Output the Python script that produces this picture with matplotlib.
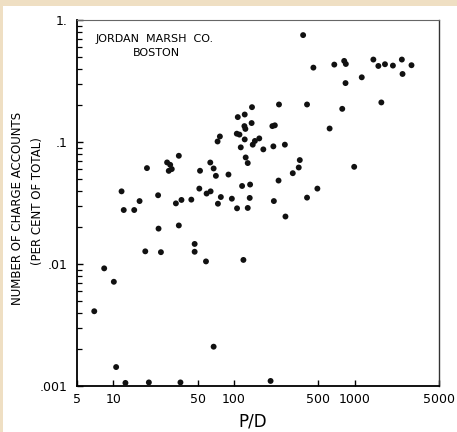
import matplotlib
matplotlib.use("Agg")
import matplotlib.pyplot as plt
from matplotlib.patches import Rectangle
from matplotlib.ticker import FixedLocator, NullFormatter, LogLocator, NullLocator

# P/D ratio (x) and number of charge accounts, per cent of total (y)
pd_ratio = [6.95, 8.40, 10.1, 10.55, 12.6, 11.7, 12.2, 14.9, 16.5, 18.4,
            19.0, 19.7, 23.5, 23.7, 24.8, 27.9, 29.6, 30.5, 28.8, 33.0,
            34.9, 34.9, 36.7, 36.0, 44.3, 47.2, 47.2, 52.3, 51.6, 58.6,
            59.3, 64.0, 63.6, 67.8, 67.8, 70.8, 73.6, 73.1, 76.4, 77.8,
            90.0, 96.0, 106, 105.5, 107.5, 111, 113.8, 116.7, 119.7, 122.7,
            122.7, 122, 124.3, 125, 130, 130, 136, 135, 140, 141,
            143, 149, 162, 175, 201, 208, 218, 212, 214, 234,
            236, 264, 267, 307, 344, 351, 374, 403, 403, 455,
            491, 620, 678, 789, 819, 845, 840, 991, 1145, 1429,
            1572, 1664, 1783, 2075, 2461, 2493, 2958]
accounts = [0.00410, 0.00921, 0.00715, 0.00143, 0.00106, 0.0394, 0.0277, 0.0277, 0.0328, 0.0127,
            0.0611, 0.00107, 0.0366, 0.0195, 0.0125, 0.068, 0.065, 0.060, 0.058, 0.0314,
            0.0771, 0.0207, 0.0335, 0.00107, 0.0337, 0.0146, 0.0126, 0.0581, 0.0415, 0.0105,
            0.0378, 0.0394, 0.0679, 0.0607, 0.00210, 0.0528, 0.0312, 0.101, 0.111, 0.0354,
            0.0541, 0.0343, 0.0286, 0.117, 0.160, 0.115, 0.0904, 0.0436, 0.0108, 0.105,
            0.168, 0.135, 0.128, 0.0747, 0.0672, 0.0288, 0.0448, 0.0348, 0.143, 0.193,
            0.0951, 0.102, 0.107, 0.0870, 0.00110, 0.135, 0.137, 0.0921, 0.0328, 0.0483,
            0.203, 0.0951, 0.0245, 0.0555, 0.0618, 0.0711, 0.752, 0.0350, 0.203, 0.407,
            0.0415, 0.129, 0.431, 0.187, 0.462, 0.436, 0.304, 0.0626, 0.339, 0.474,
            0.420, 0.211, 0.434, 0.423, 0.474, 0.361, 0.426]

x_ticks = [5, 10, 50, 100, 500, 1000, 5000]
x_ticklabels = ["5", "10", "50", "100", "500", "1000", "5000"]
y_ticks = [0.001, 0.01, 0.1, 1]
y_ticklabels = [".001", ".01", ".1", "1."]

W, H = 457, 432
fig = plt.figure(figsize=(W / 100, H / 100), dpi=100)
fig.patch.set_facecolor("white")
beige = "#efdfc3"
fig.patches.append(Rectangle((0, 1 - 6 / H), 1, 6 / H, transform=fig.transFigure,
                             facecolor=beige, edgecolor="none", zorder=-5))
fig.patches.append(Rectangle((0, 0), 3 / W, 1, transform=fig.transFigure,
                             facecolor=beige, edgecolor="none", zorder=-5))

left, right, bottom, top = 77, 439, 386, 20
ax = fig.add_axes([left / W, 1 - bottom / H, (right - left) / W, (bottom - top) / H])
ax.set_facecolor("none")
ax.set_xscale("log")
ax.set_yscale("log")
ax.set_xlim(5, 5000)
ax.set_ylim(0.001, 1)

ax.scatter(pd_ratio, accounts, s=18, color="#111111", edgecolors="none", zorder=3,
           clip_on=False)

ax.xaxis.set_major_locator(FixedLocator(x_ticks))
ax.set_xticklabels(x_ticklabels)
ax.xaxis.set_minor_locator(NullLocator())
ax.yaxis.set_major_locator(FixedLocator(y_ticks))
ax.set_yticklabels(y_ticklabels)
ax.yaxis.set_minor_locator(LogLocator(base=10, subs=range(2, 10)))
ax.yaxis.set_minor_formatter(NullFormatter())

ax.tick_params(axis="x", which="major", direction="in", length=4, width=1,
               labelsize=9, pad=5, top=False)
ax.tick_params(axis="y", which="major", direction="in", length=4, width=1,
               labelsize=9, pad=7, right=False)
ax.tick_params(axis="y", which="minor", direction="in", length=3.5, width=0.9, right=False)

for side in ["left", "bottom"]:
    ax.spines[side].set_linewidth(1.3)
    ax.spines[side].set_color("black")
ax.spines["top"].set_linewidth(0.8)
ax.spines["top"].set_color("#666666")
ax.spines["right"].set_linewidth(1.0)
ax.spines["right"].set_color("#333333")

fig.text(155 / W, 1 - 39 / H, "JORDAN  MARSH  CO.", ha="center", va="center", fontsize=8)
fig.text(156 / W, 1 - 53 / H, "BOSTON", ha="center", va="center", fontsize=8)

fig.text(17.5 / W, 1 - 208 / H, "NUMBER OF CHARGE ACCOUNTS", rotation=90,
         ha="center", va="center", fontsize=8.5)
fig.text(37 / W, 1 - 201 / H, "(PER CENT OF TOTAL)", rotation=90,
         ha="center", va="center", fontsize=8.5)

fig.text(253 / W, 1 - 421 / H, "P/D", ha="center", va="center", fontsize=12)

fig.savefig("out.png", dpi=100, facecolor=fig.get_facecolor())
